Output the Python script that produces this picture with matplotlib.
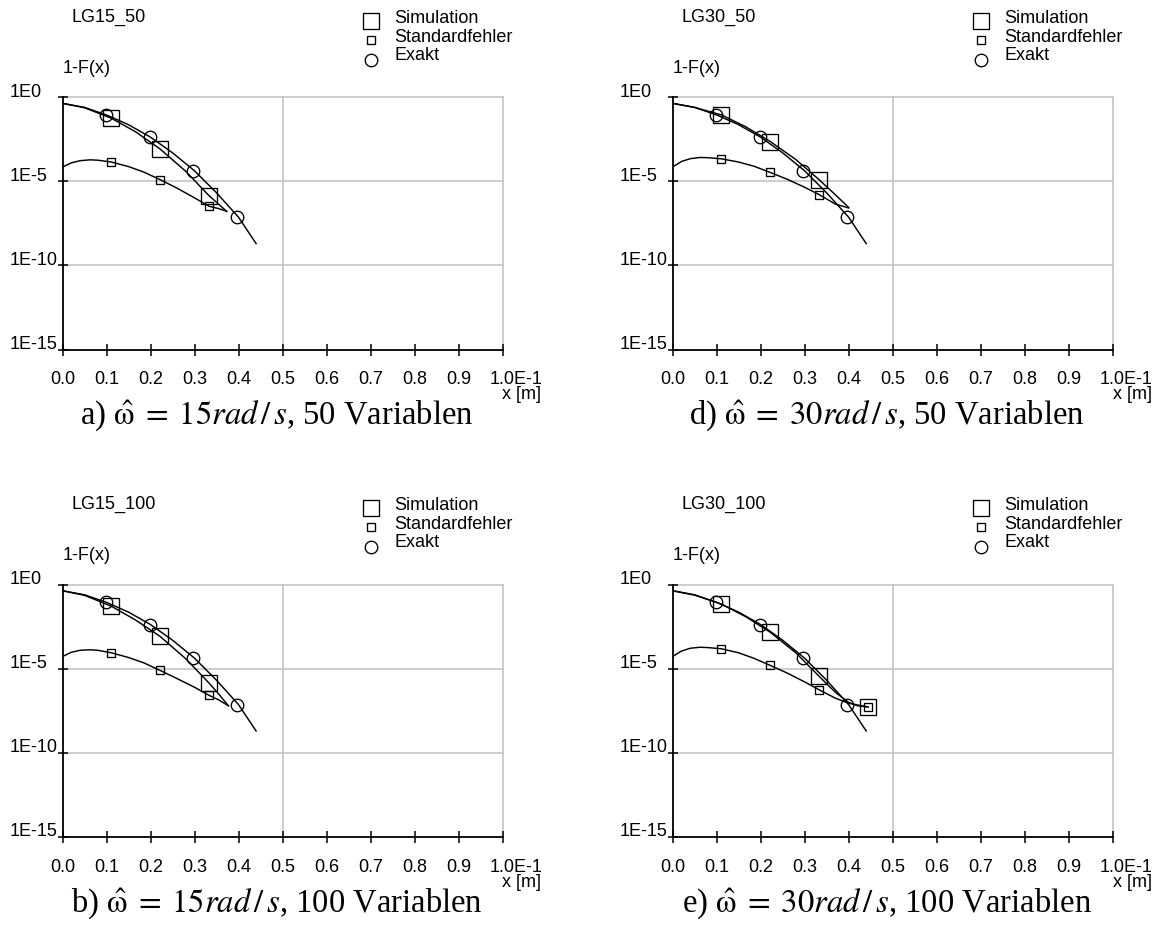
import numpy as np
import matplotlib
matplotlib.use('Agg')
import matplotlib.pyplot as plt
from matplotlib.lines import Line2D
from matplotlib.transforms import Affine2D
from matplotlib.ticker import NullLocator

plt.rcParams['font.family'] = ['Liberation Sans', 'DejaVu Sans']
plt.rcParams['mathtext.fontset'] = 'stix'

W, H = 1161, 928

# x in units of 1E-1 m, all y values given as log10(1-F(x))
# exact solution (same for all four runs)
exakt_x = [0.099, 0.198, 0.297, 0.396]
exakt_log = [-1.05, -2.37, -4.37, -7.13]
exakt_line_x = [0.0, 0.05, 0.1, 0.15, 0.2, 0.25, 0.3, 0.35, 0.4, 0.44]
exakt_line_log = [-0.36, -0.6, -1.05, -1.63, -2.37, -3.3, -4.37, -5.68, -7.13, -8.7]

sim_x = [0.111, 0.222, 0.333]
sim_x_e = [0.111, 0.222, 0.333, 0.444]
std_line_x = [0.0, 0.02, 0.04, 0.062, 0.08, 0.111, 0.15, 0.185, 0.222, 0.26, 0.3, 0.333]

# LG15_50
sim_a_log = [-1.245, -3.08, -5.85]
std_a_log = [-3.85, -4.90, -6.48]
sim_a_line_x = [0.0, 0.05, 0.111, 0.166, 0.222, 0.28, 0.333, 0.355, 0.373]
sim_a_line_log = [-0.36, -0.62, -1.245, -2.05, -3.08, -4.4, -5.85, -6.36, -6.78]
std_a_line_log = [-4.15, -3.9, -3.77, -3.72, -3.74, -3.85, -4.12, -4.45, -4.90, -5.4, -5.98, -6.48]
std_a_tail_x = [0.355, 0.373]
std_a_tail_log = [-6.62, -6.78]

# LG15_100
sim_b_log = [-1.28, -3.08, -5.85]
std_b_log = [-4.05, -5.10, -6.58]
sim_b_line_x = [0.0, 0.05, 0.111, 0.166, 0.222, 0.28, 0.333, 0.355, 0.377]
sim_b_line_log = [-0.36, -0.63, -1.28, -2.1, -3.08, -4.4, -5.85, -6.5, -7.2]
std_b_line_log = [-4.27, -4.02, -3.9, -3.87, -3.9, -4.05, -4.33, -4.65, -5.10, -5.58, -6.1, -6.58]
std_b_tail_x = [0.355, 0.377]
std_b_tail_log = [-6.85, -7.2]

# LG30_50
sim_d_log = [-1.05, -2.63, -4.90]
std_d_log = [-3.66, -4.47, -5.79]
sim_d_line_x = [0.0, 0.05, 0.111, 0.166, 0.222, 0.28, 0.333, 0.37, 0.40]
sim_d_line_log = [-0.36, -0.6, -1.05, -1.75, -2.63, -3.7, -4.90, -5.8, -6.55]
std_d_line_log = [-4.15, -3.82, -3.65, -3.58, -3.59, -3.66, -3.85, -4.1, -4.47, -4.87, -5.35, -5.79]
std_d_tail_x = [0.37, 0.40]
std_d_tail_log = [-6.35, -6.58]

# LG30_100
sim_e_log = [-1.15, -2.83, -5.45, -7.27]
std_e_log = [-3.81, -4.80, -6.25, -7.27]
sim_e_line_x = [0.0, 0.05, 0.111, 0.166, 0.222, 0.28, 0.333, 0.37, 0.40, 0.42, 0.444]
sim_e_line_log = [-0.36, -0.62, -1.15, -1.9, -2.83, -4.05, -5.45, -6.4, -7.0, -7.2, -7.27]
std_e_line_log = [-4.27, -3.95, -3.78, -3.72, -3.74, -3.81, -4.05, -4.38, -4.80, -5.25, -5.78, -6.25]
std_e_tail_x = [0.37, 0.40, 0.444]
std_e_tail_log = [-6.75, -7.05, -7.27]

titles = ['LG15_50', 'LG30_50', 'LG15_100', 'LG30_100']
captions = [r'a) $\hat{\mathrm{\omega}}\;=\;15\mathit{rad}\,/\,\mathit{s}$, 50 Variablen',
            r'd) $\hat{\mathrm{\omega}}\;=\;30\mathit{rad}\,/\,\mathit{s}$, 50 Variablen',
            r'b) $\hat{\mathrm{\omega}}\;=\;15\mathit{rad}\,/\,\mathit{s}$, 100 Variablen',
            r'e) $\hat{\mathrm{\omega}}\;=\;30\mathit{rad}\,/\,\mathit{s}$, 100 Variablen']
legend_labels = ['Simulation', 'Standardfehler', 'Exakt']
x_ticks = [0.0, 0.1, 0.2, 0.3, 0.4, 0.5, 0.6, 0.7, 0.8, 0.9, 1.0]
x_ticklabels = ['0.0', '0.1', '0.2', '0.3', '0.4', '0.5', '0.6', '0.7', '0.8', '0.9', '1.0E-1']
y_ticks = [0, -5, -10, -15]
y_ticklabels = ['1E0', '1E-5', '1E-10', '1E-15']

panels = [
    (sim_x, sim_a_log, std_a_log, sim_a_line_x, sim_a_line_log, std_a_line_log, std_a_tail_x, std_a_tail_log),
    (sim_x, sim_d_log, std_d_log, sim_d_line_x, sim_d_line_log, std_d_line_log, std_d_tail_x, std_d_tail_log),
    (sim_x, sim_b_log, std_b_log, sim_b_line_x, sim_b_line_log, std_b_line_log, std_b_tail_x, std_b_tail_log),
    (sim_x_e, sim_e_log, std_e_log, sim_e_line_x, sim_e_line_log, std_e_line_log, std_e_tail_x, std_e_tail_log),
]

fig = plt.figure(figsize=(W / 100, H / 100), dpi=100)
# pixel coordinates, origin top left
pix = Affine2D().scale(1.0 / W, -1.0 / H).translate(0, 1) + fig.transFigure

cols = [62.5, 672.6]
rows = [98.3, 585.7]
AW, AH = 440.0, 252.2
grid_c = '#c0c0c0'
FS = 13
MS_BIG, MS_SMALL, MS_CIRC = 12, 6, 9

def p10(v):
    return 10.0 ** np.asarray(v)

for i, pnl in enumerate(panels):
    mx, sim_log, std_log, sline_x, sline_log, stdline_log, tail_x, tail_log = pnl
    x0 = cols[i % 2]
    y0 = rows[i // 2]
    ax = fig.add_axes([x0 / W, 1 - (y0 + AH) / H, AW / W, AH / H])
    ax.set_yscale('log')
    ax.set_xlim(0, 1.0)
    ax.set_ylim(1e-15, 1.0)
    ax.yaxis.set_minor_locator(NullLocator())
    ax.set_xticks(x_ticks)
    ax.set_yticks(p10(y_ticks))
    ax.tick_params(axis='x', direction='inout', length=8.6, width=1.1,
                   labelbottom=False)
    ax.tick_params(axis='y', direction='inout', length=7.2, width=1.1,
                   labelleft=False)
    for s in ['top', 'right']:
        ax.spines[s].set_visible(False)
    for s in ['left', 'bottom']:
        ax.spines[s].set_linewidth(1.3)
        ax.spines[s].set_zorder(4)
    for v in [0.5, 1.0]:
        ax.axvline(v, color=grid_c, lw=1.1, zorder=0, clip_on=False)
    for v in [0, -5, -10]:
        ax.axhline(10.0 ** v, color=grid_c, lw=1.1, zorder=0, clip_on=False)

    # curves
    ax.plot(exakt_line_x, p10(exakt_line_log), color='k', lw=1.05)
    ax.plot(sline_x, p10(sline_log), color='k', lw=1.05)
    ax.plot(std_line_x + tail_x, p10(stdline_log + tail_log), color='k', lw=1.05)

    # markers
    ax.plot(mx, p10(sim_log), ls='none', marker='s', ms=MS_BIG, mfc='none',
            mec='k', mew=0.95, clip_on=False, zorder=5)
    ax.plot(mx, p10(std_log), ls='none', marker='s', ms=MS_SMALL, mfc='none',
            mec='k', mew=0.95, clip_on=False, zorder=5)
    ax.plot(exakt_x, p10(exakt_log), ls='none', marker='o', ms=MS_CIRC, mfc='none',
            mec='k', mew=0.95, clip_on=False, zorder=5)

    # tick labels
    for v, lab in zip(y_ticks, y_ticklabels):
        ax.annotate(lab, xy=(0, 10.0 ** v), xycoords=('axes fraction', 'data'),
                    xytext=(-52.5, 1.6), textcoords='offset pixels',
                    ha='left', va='baseline', fontsize=FS)
    for v, lab in zip(x_ticks, x_ticklabels):
        if 'E' in lab:
            # "1.0" centred on the tick, exponent hanging to the right
            ax.annotate(lab, xy=(v, 0), xycoords=('data', 'axes fraction'),
                        xytext=(-12.5, -33.6), textcoords='offset pixels',
                        ha='left', va='baseline', fontsize=FS)
        else:
            ax.annotate(lab, xy=(v, 0), xycoords=('data', 'axes fraction'),
                        xytext=(0, -33.6), textcoords='offset pixels',
                        ha='center', va='baseline', fontsize=FS)
    ax.annotate('x [m]', xy=(1.0, 0), xycoords=('data', 'axes fraction'),
                xytext=(39, -49), textcoords='offset pixels',
                ha='right', va='baseline', fontsize=FS)

    # header texts
    fig.text(x0 + 9.2, y0 - 98.3 + 21.5, titles[i], transform=pix,
             ha='left', va='baseline', fontsize=FS)
    fig.text(x0 + 0.5, y0 - 98.3 + 72.7, '1-F(x)', transform=pix,
             ha='left', va='baseline', fontsize=FS)

    # legend
    ly = y0 - 98.3
    keys = [('s', MS_BIG), ('s', MS_SMALL), ('o', MS_CIRC)]
    key_y = [21.7, 40.8, 60.5]
    txt_y = [22.7, 41.7, 60.0]
    for (m, ms), ky, ty, lab in zip(keys, key_y, txt_y, legend_labels):
        fig.add_artist(Line2D([x0 + 308.5], [ly + ky], transform=pix, ls='none',
                              marker=m, ms=ms, mfc='none', mec='k', mew=0.95))
        fig.text(x0 + 331.5, ly + ty, lab, transform=pix, ha='left',
                 va='baseline', fontsize=FS)

    # caption
    fig.text(x0 + 214, y0 + AH + 74.5, captions[i], transform=pix,
             ha='center', va='baseline', fontsize=23.5,
             family=['Liberation Serif', 'DejaVu Serif'])

fig.savefig('out.png', dpi=100)
